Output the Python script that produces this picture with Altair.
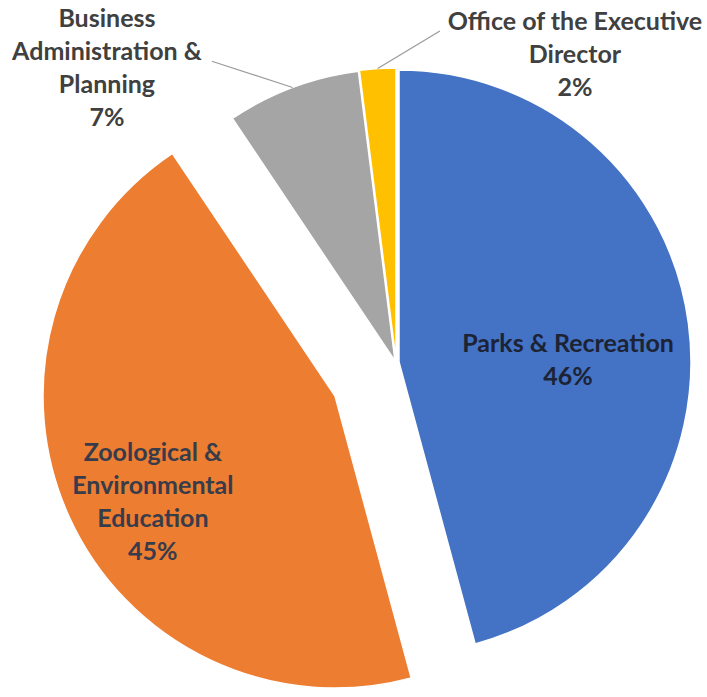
import altair as alt
import pandas as pd

# ---- data ----
categories = [
    "Parks & Recreation",
    "Zoological & Environmental Education",
    "Business Administration & Planning",
    "Office of the Executive Director",
]
values = [45.8, 44.8, 7.4, 2.0]
wrapped = [
    "Parks & Recreation",
    "Zoological &\nEnvironmental\nEducation",
    "Business\nAdministration &\nPlanning",
    "Office of the Executive\nDirector",
]
colors = ["#4472C4", "#ED7D31", "#A5A5A5", "#FFC000"]

df = pd.DataFrame({"cat": categories, "value": values, "wrapped": wrapped,
                   "order": list(range(len(categories)))})

# ---- layout / style (not data) ----
R = 292
SIDE = 2 * R
LINE_H = 33
# explode offsets (px), label anchor (radius factor, angle delta deg), leader end, text colour
style = {
    categories[0]: dict(dx=0, dy=0, lr=0.579, ld=6.9, tc="#1c2335", leader=None),
    categories[1]: dict(dx=-64, dy=34, lr=0.723, ld=-5.9, tc="#383c4a", leader=None),
    categories[2]: dict(dx=-4, dy=-1, lr=1.407, ld=-24.0, tc="#404040", leader=(1.203, -10.9)),
    categories[3]: dict(dx=-3, dy=-2, lr=1.211, ld=34.0, tc="#404040", leader=(1.137, 11.2)),
}

theta_scale = alt.Scale(domain=[0, 100], range=[0, 6.283185307179586])
xs = alt.Scale(domain=[-1, 1], nice=False, zero=False)
ys = alt.Scale(domain=[-1, 1], nice=False, zero=False)

FONT = "Lato"
layers = []
for cat, col in zip(categories, colors):
    s = style[cat]
    arc = alt.Chart().transform_filter(alt.datum.cat == cat).mark_arc(
        radius=R, xOffset=s["dx"], yOffset=s["dy"], stroke="white", strokeWidth=1.5, color=col
    ).encode(
        theta=alt.Theta("start:Q", scale=theta_scale),
        theta2="end:Q",
    )
    layers.append(arc)

for cat in categories:
    s = style[cat]
    if s["leader"] is not None:
        lr2, ld2 = s["leader"]
        rule = alt.Chart().transform_filter(alt.datum.cat == cat).transform_calculate(
            x1="sin(datum.midrad)",
            y1="cos(datum.midrad)",
            x2=f"{lr2}*sin(datum.midrad + ({ld2})*PI/180)",
            y2=f"{lr2}*cos(datum.midrad + ({ld2})*PI/180)",
        ).mark_rule(
            color="#9a9a9a", strokeWidth=1.2,
            xOffset=s["dx"], yOffset=s["dy"], x2Offset=s["dx"], y2Offset=s["dy"],
        ).encode(
            x=alt.X("x1:Q", scale=xs, axis=None),
            y=alt.Y("y1:Q", scale=ys, axis=None),
            x2="x2:Q",
            y2="y2:Q",
        )
        layers.append(rule)

for cat, wr in zip(categories, wrapped):
    s = style[cat]
    n_lines = wr.count("\n") + 2  # name lines + percentage line
    txt = alt.Chart().transform_filter(alt.datum.cat == cat).transform_calculate(
        lx=f"{s['lr']}*sin(datum.midrad + ({s['ld']})*PI/180)",
        ly=f"{s['lr']}*cos(datum.midrad + ({s['ld']})*PI/180)",
    ).mark_text(
        font=FONT, fontWeight="bold", fontSize=25, lineHeight=LINE_H, lineBreak="\n",
        align="center", baseline="middle", color=s["tc"],
        xOffset=s["dx"], yOffset=s["dy"] - (n_lines - 1) * LINE_H / 2,
    ).encode(
        x=alt.X("lx:Q", scale=xs, axis=None),
        y=alt.Y("ly:Q", scale=ys, axis=None),
        text="label:N",
    )
    layers.append(txt)

chart = alt.layer(*layers, data=df).transform_window(
    cum="sum(value)", sort=[alt.SortField("order")], frame=[None, 0]
).transform_calculate(
    start="datum.cum - datum.value",
    end="datum.cum",
    mid="datum.cum - datum.value/2",
    midrad="(datum.cum - datum.value/2)/100*2*PI",
    label="datum.wrapped + '\\n' + round(datum.value) + '%'",
).properties(
    width=SIDE, height=SIDE,
    padding={"left": 107, "top": 70, "right": 16, "bottom": 43},
    autosize="none",
    background="white",
).configure_view(stroke=None)

chart.save("out.html", embed_options={"renderer": "svg", "actions": False})
